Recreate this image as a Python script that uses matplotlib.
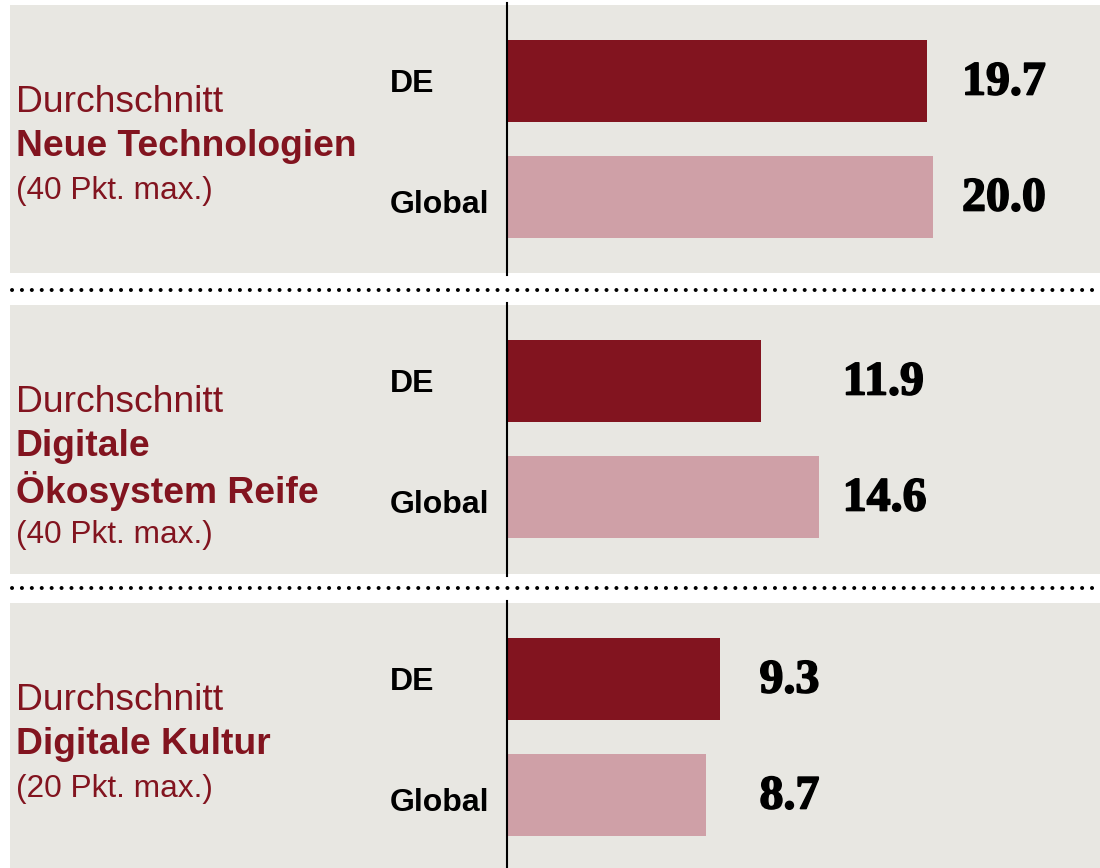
import matplotlib.pyplot as plt
import matplotlib.patheffects as pe
from matplotlib.lines import Line2D

# Daten
gruppen = ["DE", "Global"]
titel_fett = [["Neue Technologien"],
              ["Digitale", "Ökosystem Reife"],
              ["Digitale Kultur"]]
max_punkte = ["(40 Pkt. max.)", "(40 Pkt. max.)", "(20 Pkt. max.)"]
werte_de = [19.7, 11.9, 9.3]
werte_global = [20.0, 14.6, 8.7]

# Farben
ROT = "#82141F"
ROSA = "#CFA0A7"
GRAU = "#E8E7E2"

W, H = 1100, 868
fig = plt.figure(figsize=(W / 100, H / 100), dpi=100)
fig.patch.set_facecolor("white")

# Panel-Grenzen in Pixeln (oben, unten), Pixel pro Punkt, Abstand Wertlabel
panels = [(5, 273), (305, 574), (603, 868)]
px_pro_einheit = [21.3, 21.35, 22.85]
label_abstand = [29, 24, 40]
x0_px, links_px = 507, 10

for i, (oben, unten) in enumerate(panels):
    ax = fig.add_axes([links_px / W, 1 - unten / H, (W - links_px) / W, (unten - oben) / H])
    ax.set_facecolor(GRAU)
    for s in ax.spines.values():
        s.set_visible(False)
    ax.set_xticks([])
    ax.set_yticks([])

    s = px_pro_einheit[i]
    ax.set_xlim(-(x0_px - links_px) / s, (W - x0_px) / s)
    h_px = unten - oben
    # Balkenabstand 116 px, erster Balken bei ~76 px von oben
    ax.set_ylim((h_px - 76) / 116, -76 / 116)

    werte = [werte_de[i], werte_global[i]]
    ax.barh([0, 1], werte, height=0.71, color=[ROT, ROSA], zorder=2)
    ax.axvline(0, ymin=-0.008, ymax=1.008, color="black", lw=1.5, zorder=3, clip_on=False)

    lx = max(werte) + label_abstand[i] / s
    for j, v in enumerate(werte):
        ax.text(lx, j - 0.03, f"{v:.1f}", ha="left", va="center_baseline",
                fontsize=34.5, fontweight="bold", family="Liberation Serif", color="black",
                path_effects=[pe.withStroke(linewidth=1.2, foreground="black")])
        ax.text((390 - links_px) / (W - links_px), j + (0.04 if j == 1 else 0), gruppen[j],
                transform=ax.get_yaxis_transform(), ha="left", va="center_baseline",
                fontsize=23, fontweight="bold", family="Liberation Sans", color="black")

    # linker Textblock
    zeilen = [("Durchschnitt", "normal")] + [(t, "bold") for t in titel_fett[i]] + [(max_punkte[i], "normal")]
    for k, (txt, gew) in enumerate(zeilen):
        y = 1 - (94 + 44 * k) / h_px
        fs = 22.8 if k == len(zeilen) - 1 else 26.8
        ax.text(6 / (W - links_px), y, txt, transform=ax.transAxes, ha="left",
                va="center_baseline", fontsize=fs, fontweight=gew,
                family="Liberation Sans", color=ROT)

# gepunktete Trennlinien
for y_px in [290, 588]:
    fig.add_artist(Line2D([12 / W, 1], [1 - y_px / H] * 2, transform=fig.transFigure,
                          color="black", lw=2.9, linestyle=(0, (0.01, 2.45)),
                          dash_capstyle="round"))

fig.savefig("out.png", dpi=100, facecolor="white")
